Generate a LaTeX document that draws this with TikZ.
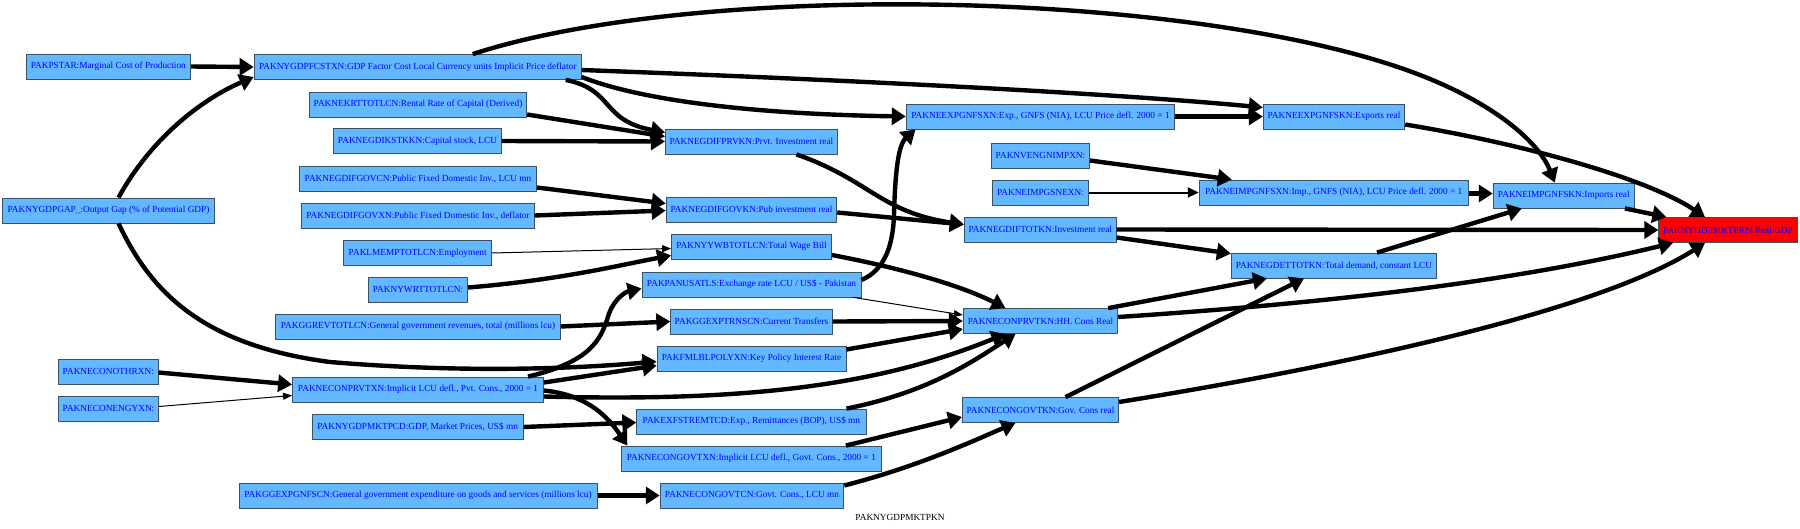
\documentclass[tikz,border=0pt]{standalone}
\usepackage{fontspec}
\setmainfont{Liberation Serif}
\usetikzlibrary{arrows.meta}
\definecolor{boxfill}{HTML}{63B8FF}
\definecolor{boxline}{RGB}{60,80,100}
\definecolor{txtblue}{RGB}{0,0,255}
\begin{document}
\begin{tikzpicture}[x=1pt,y=-1pt,
  box/.style={draw=boxline, line width=0.8pt, fill=boxfill, text=txtblue,
    font=\fontsize{9.3}{11}\selectfont, minimum height=25pt, inner xsep=2pt, inner ysep=0pt},
  goal/.style={box, fill=red},
  thk/.style={line width=4.4pt, -{Triangle[length=14pt,width=17pt]}},
  med/.style={line width=2pt, -{Triangle[length=11pt,width=10pt]}},
  thn/.style={line width=1pt, -{Triangle[length=9pt,width=7pt]}},
  lbl/.style={font=\fontsize{9.3}{11}\selectfont, text=black, inner sep=0pt}]
\useasboundingbox (0,0) rectangle (1800,528);
% column 1
\node[box, minimum width=164.6pt] (pstar) at (108.3,66.5) {PAKPSTAR:Marginal Cost of Production};
\node[box, minimum width=211.6pt] (gap) at (108.5,210.5) {PAKNYGDPGAP\_:Output Gap (\% of Potential GDP)};
\node[box, minimum width=99.5pt] (othr) at (108.3,371.5) {PAKNECONOTHRXN:};
\node[box, minimum width=99.8pt] (engy) at (108.5,408.5) {PAKNECONENGYXN:};
% column 2
\node[box, minimum width=327.3pt] (fcst) at (417.7,67) {PAKNYGDPFCSTXN:GDP Factor Cost Local Currency units Implicit Price deflator};
\node[box, minimum width=217.4pt] (krt) at (418,104.5) {PAKNEKRTTOTLCN:Rental Rate of Capital (Derived)};
\node[box, minimum width=167.6pt] (kstk) at (417.5,141) {PAKNEGDIKSTKKN:Capital stock, LCU};
\node[box, minimum width=237.2pt] (fgovcn) at (418,178.5) {PAKNEGDIFGOVCN:Public Fixed Domestic Inv., LCU mn};
\node[box, minimum width=232.6pt] (fgovxn) at (418,215.5) {PAKNEGDIFGOVXN:Public Fixed Domestic Inv., deflator};
\node[box, minimum width=148.1pt] (lmemp) at (417.7,253) {PAKLMEMPTOTLCN:Employment};
\node[box, minimum width=99.2pt] (nywrt) at (418,289.5) {PAKNYWRTTOTLCN:};
\node[box, minimum width=284.8pt] (ggrev) at (418,326.5) {PAKGGREVTOTLCN:General government revenues, total (millions lcu)};
\node[box, minimum width=251pt] (prvtxn) at (418,389.5) {PAKNECONPRVTXN:Implicit LCU defl., Pvt. Cons., 2000 = 1};
\node[box, minimum width=210.9pt] (mktpcd) at (417.7,427) {PAKNYGDPMKTPCD:GDP, Market Prices, US\$ mn};
\node[box, minimum width=358.2pt] (ggexpg) at (418,495.5) {PAKGGEXPGNFSCN:General government expenditure on goods and services (millions lcu)};
% column 3
\node[box, minimum width=172pt] (fprvkn) at (751.4,141.5) {PAKNEGDIFPRVKN:Prvt. Investment real};
\node[box, minimum width=170.7pt] (fgovkn) at (751.5,209.5) {PAKNEGDIFGOVKN:Pub investment real};
\node[box, minimum width=160pt] (yywb) at (751.5,246.5) {PAKNYYWBTOTLCN:Total Wage Bill};
\node[box, minimum width=219pt] (panus) at (751.5,284.5) {PAKPANUSATLS:Exchange rate LCU / US\$ - Pakistan};
\node[box, minimum width=161.5pt] (trns) at (751.5,321.5) {PAKGGEXPTRNSCN:Current Transfers};
\node[box, minimum width=189pt] (fmlbl) at (751.5,358.5) {PAKFMLBLPOLYXN:Key Policy Interest Rate};
\node[box, minimum width=229.3pt] (remt) at (751.4,421.5) {PAKEXFSTREMTCD:Exp., Remittances (BOP), US\$ mn};
\node[box, minimum width=260pt] (govtxn) at (751.4,458.5) {PAKNECONGOVTXN:Implicit LCU defl., Govt. Cons., 2000 = 1};
\node[box, minimum width=183.7pt] (govtcn) at (752,495.5) {PAKNECONGOVTCN:Govt. Cons., LCU mn};
% column 4
\node[box, minimum width=268.6pt] (expxn) at (1040.5,116.5) {PAKNEEXPGNFSXN:Exp., GNFS (NIA), LCU Price defl. 2000 = 1};
\node[box, minimum width=98pt] (nveng) at (1040.5,155.5) {PAKNVENGNIMPXN:};
\node[box, minimum width=95.7pt] (impsne) at (1040.5,192.5) {PAKNEIMPGSNEXN:};
\node[box, minimum width=152pt] (ftot) at (1040.3,229.5) {PAKNEGDIFTOTKN:Investment real};
\node[box, minimum width=154.6pt] (prvtkn) at (1040.5,321) {PAKNECONPRVTKN:HH. Cons Real};
\node[box, minimum width=156.2pt] (govtkn) at (1040.5,410) {PAKNECONGOVTKN:Gov. Cons real};
% column 5
\node[box, minimum width=141.6pt] (expkn) at (1334,116.5) {PAKNEEXPGNFSKN:Exports real};
\node[box, minimum width=269pt] (impxn) at (1333.7,192.5) {PAKNEIMPGNFSXN:Imp., GNFS (NIA), LCU Price defl. 2000 = 1};
\node[box, minimum width=205.5pt] (detot) at (1334,265.5) {PAKNEGDETTOTKN:Total demand, constant LCU};
% column 6, 7
\node[box, minimum width=141.3pt] (impkn) at (1563.8,195.5) {PAKNEIMPGNFSKN:Imports real};
\node[goal, minimum width=138.4pt] (gdp) at (1728,230) {PAKNYGDPMKTPKN:Real GDP};
\node[lbl] (title) at (900,517) {PAKNYGDPMKTPKN};
% edges
\draw[thk] (pstar.east) -- (fcst.west);
\draw[thk] ([shift={(10,0)}]gap.north) .. controls (150,140) and (200,100) .. ([shift={(0,10)}]fcst.west);
\draw[thk] ([shift={(10,0)}]gap.south) .. controls (150,290) and (200,345) .. (330,362) .. controls (450,372) and (560,370) .. ([shift={(0,3)}]fmlbl.west);
\draw[thk] ([shift={(55,0)}]fcst.north) .. controls (700,-20) and (1200,-10) .. (1420,75) .. controls (1500,106) and (1540,145) .. ([shift={(-9,0)}]impkn.north);
\draw[thk] ([shift={(0,3)}]fcst.east) .. controls (800,78) and (1100,92) .. ([shift={(0,-9)}]expkn.west);
\draw[thk] ([shift={(-16,0)}]fcst.south east) .. controls (615,90) and (600,120) .. ([shift={(0,-9)}]fprvkn.west);
\draw[thk] ([shift={(0,10)}]fcst.east) .. controls (640,100) and (750,114) .. (expxn.west);
\draw[thk] ([shift={(0,10)}]krt.east) -- ([shift={(0,-5)}]fprvkn.west);
\draw[thk] (kstk.east) -- (fprvkn.west);
\draw[thk] ([shift={(0,9)}]fgovcn.east) -- ([shift={(0,-6)}]fgovkn.west);
\draw[thk] (fgovxn.east) -- ([shift={(0,1)}]fgovkn.west);
\draw[thn] (lmemp.east) -- ([shift={(0,2)}]yywb.west);
\draw[thk] ([shift={(0,-2)}]nywrt.east) .. controls (560,280) and (620,265) .. ([shift={(0,9)}]yywb.west);
\draw[thk] (ggrev.east) -- (trns.west);
\draw[thk] ([shift={(0,1)}]othr.east) -- ([shift={(0,-5)}]prvtxn.west);
\draw[thn] ([shift={(0,-2)}]engy.east) -- ([shift={(0,6)}]prvtxn.west);
\draw[thk] ([shift={(110,0)}]prvtxn.north) .. controls (590,362) and (600,340) .. (607,320) .. controls (612,300) and (625,292) .. ([shift={(0,4)}]panus.west);
\draw[thk] ([shift={(0,-7)}]prvtxn.east) -- ([shift={(0,7)}]fmlbl.west);
\draw[thk] ([shift={(0,7)}]prvtxn.east) .. controls (750,402) and (880,385) .. ([shift={(-35,0)}]prvtkn.south);
\draw[thk] ([shift={(0,1)}]prvtxn.east) .. controls (590,395) and (610,420) .. ([shift={(-124,0)}]govtxn.north);
\draw[thk] (mktpcd.east) -- ([shift={(0,1)}]remt.west);
\draw[thk] (ggexpg.east) -- (govtcn.west);
\draw[thk] ([shift={(45,0)}]fprvkn.south) .. controls (870,180) and (880,212) .. ([shift={(0,-5)}]ftot.west);
\draw[thk] ([shift={(0,3)}]fgovkn.east) -- ([shift={(0,-5)}]ftot.west);
\draw[thk] ([shift={(0,8.5)}]yywb.east) .. controls (900,268) and (960,285) .. ([shift={(-35,0)}]prvtkn.north);
\draw[thk] ([shift={(0,-4.5)}]panus.east) .. controls (885,270) and (893,245) .. (894,215) .. controls (895,175) and (898,145) .. ([shift={(-125,0)}]expxn.south);
\draw[thn] ([shift={(-8,0)}]panus.south east) -- ([shift={(0,-6)}]prvtkn.west);
\draw[thk] (trns.east) -- (prvtkn.west);
\draw[thk] ([shift={(0,-9)}]fmlbl.east) -- ([shift={(0,8)}]prvtkn.west);
\draw[thk] ([shift={(-20,0)}]remt.north east) .. controls (930,392) and (975,360) .. ([shift={(-25,0)}]prvtkn.south);
\draw[thk] ([shift={(-36,0)}]govtxn.north east) -- ([shift={(0,7)}]govtkn.west);
\draw[thk] ([shift={(0,-10)}]govtcn.east) .. controls (920,466) and (975,440) .. ([shift={(-25,0)}]govtkn.south);
\draw[thk] (expxn.east) -- (expkn.west);
\draw[thk] ([shift={(0,5)}]nveng.east) -- ([shift={(33,0)}]impxn.north west);
\draw[med] (impsne.east) -- (impxn.west);
\draw[thk] (ftot.east) -- (gdp.west);
\draw[thk] ([shift={(0,8)}]ftot.east) -- ([shift={(0,1)}]detot.north west);
\draw[thk] ([shift={(-10,0)}]prvtkn.north east) -- ([shift={(-67,0)}]detot.south);
\draw[thk] ([shift={(0,-4)}]prvtkn.east) .. controls (1300,305) and (1500,285) .. ([shift={(-55,0)}]gdp.south);
\draw[thk] ([shift={(25,0)}]govtkn.north) -- ([shift={(-30,0)}]detot.south);
\draw[thk] ([shift={(0,-8)}]govtkn.east) .. controls (1350,365) and (1600,310) .. ([shift={(-23,0)}]gdp.south);
\draw[thk] ([shift={(0,8)}]expkn.east) .. controls (1530,145) and (1650,180) .. ([shift={(-23,0)}]gdp.north);
\draw[thk] ([shift={(0,1)}]impxn.east) -- ([shift={(0,-2)}]impkn.west);
\draw[thk] ([shift={(-10,0)}]impkn.south east) -- ([shift={(8,0)}]gdp.north west);
\draw[thk] ([shift={(43,0)}]detot.north) -- ([shift={(-42,0)}]impkn.south);
\end{tikzpicture}
\end{document}
